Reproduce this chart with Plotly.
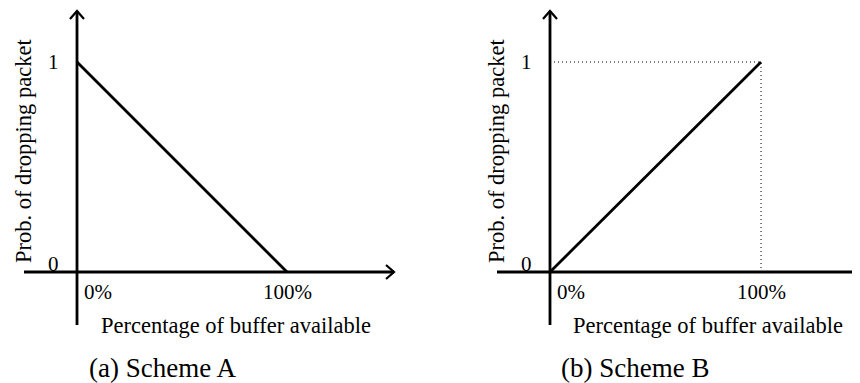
import plotly.graph_objects as go

# ---- data ----
buffer_pct = [0, 100]            # percentage of buffer available
prob_scheme_a = [1, 0]           # Scheme A: prob. of dropping packet
prob_scheme_b = [0, 1]           # Scheme B
y_ticks = [0, 1]
y_tick_labels = ["0", "1"]
x_ticks = [0, 100]
x_tick_labels = ["0%", "100%"]
x_title = "Percentage of buffer available"
y_title = "Prob. of dropping packet"
captions = ["(a) Scheme A", "(b) Scheme B"]

OFF = 8  # page body margin of the html page
W, H = 860 - OFF, 383 - OFF
FONT = "Liberation Serif, Times New Roman, serif"
FS_TICK = 21
FS_TITLE = 22.5
FS_CAP = 27
LW = 2.8

# pixel geometry for each panel (page px)
panels = [
    dict(x0=OFF, x1=430, ox=77, sx=210 / 100),
    dict(x0=430, x1=860, ox=550, sx=211 / 100),
]
oy, sy = 272, 210  # y origin page px, px per unit prob

yr = [-(383 - oy) / sy, (oy - OFF) / sy]

fig = go.Figure()
layout = dict(width=W, height=H, margin=dict(l=0, r=0, t=0, b=0, pad=0),
              paper_bgcolor="white", plot_bgcolor="white", showlegend=False)

annotations = []

for i, p in enumerate(panels):
    xa = "x" if i == 0 else "x2"
    ya = "y" if i == 0 else "y2"
    xr = [-(p["ox"] - p["x0"]) / p["sx"], (p["x1"] - p["ox"]) / p["sx"]]
    key = "" if i == 0 else "2"
    layout["xaxis" + key] = dict(domain=[(p["x0"] - OFF) / W, (p["x1"] - OFF) / W], range=xr,
                                 visible=False, fixedrange=True)
    layout["yaxis" + key] = dict(domain=[0, 1], range=yr, visible=False,
                                 fixedrange=True, anchor=xa)
    dx = lambda px, p=p: px / p["sx"]   # px -> data x
    dy = lambda px: px / sy             # px -> data y

    # axes lines
    x_start, x_end = dx(-53), dx(317 if i == 0 else 312)
    y_start, y_end = dy(-53), dy(261)
    for xs, ys in (([x_start, x_end], [0, 0]), ([0, 0], [y_start, y_end])):
        fig.add_trace(go.Scatter(x=xs, y=ys, mode="lines",
                                 line=dict(color="black", width=LW), xaxis=xa, yaxis=ya,
                                 hoverinfo="skip"))
    # arrowheads (chevrons)
    fig.add_trace(go.Scatter(x=[x_end - dx(8), x_end, x_end - dx(8)],
                             y=[dy(7), 0, -dy(7)], mode="lines",
                             line=dict(color="black", width=LW * 0.8), xaxis=xa, yaxis=ya,
                             hoverinfo="skip"))
    fig.add_trace(go.Scatter(x=[-dx(7), 0, dx(7)],
                             y=[y_end - dy(8), y_end, y_end - dy(8)], mode="lines",
                             line=dict(color="black", width=LW * 0.8), xaxis=xa, yaxis=ya,
                             hoverinfo="skip"))

    series = prob_scheme_a if i == 0 else prob_scheme_b
    if i == 1:
        fig.add_trace(go.Scatter(x=[0, buffer_pct[1], buffer_pct[1]],
                                 y=[series[1], series[1], 0], mode="lines",
                                 line=dict(color="black", width=1, dash="1px,3px"),
                                 xaxis=xa, yaxis=ya, hoverinfo="skip"))
    fig.add_trace(go.Scatter(x=buffer_pct, y=series, mode="lines",
                             line=dict(color="black", width=LW), xaxis=xa, yaxis=ya,
                             hoverinfo="skip"))

    tfont = dict(family=FONT, size=FS_TICK, color="black")
    font = dict(family=FONT, size=FS_TITLE, color="black")
    # y tick labels
    for yv, lab in zip(y_ticks, y_tick_labels):
        annotations.append(dict(x=-dx(16), y=yv + (dy(8) if yv == 0 else 0), xref=xa, yref=ya,
                                text=lab, showarrow=False, xanchor="right", yanchor="middle",
                                font=tfont))
    # x tick labels
    for xv, lab in zip(x_ticks, x_tick_labels):
        annotations.append(dict(x=dx(5) if xv == 0 else xv, y=-dy(20), xref=xa, yref=ya,
                                text=lab, showarrow=False,
                                xanchor="left" if xv == 0 else "center", yanchor="middle",
                                font=tfont))
    # x title
    annotations.append(dict(x=dx(159 if i == 0 else 158), y=-dy(53), xref=xa, yref=ya,
                            text=x_title, showarrow=False, xanchor="center", yanchor="middle",
                            font=font))
    # y title
    annotations.append(dict(x=-dx(54), y=dy(121), xref=xa, yref=ya, text=y_title,
                            showarrow=False, textangle=-90, xanchor="center", yanchor="middle",
                            font=font))
    # caption
    annotations.append(dict(x=dx(85), y=-dy(96), xref=xa, yref=ya, text=captions[i],
                            showarrow=False, xanchor="center", yanchor="middle",
                            font=dict(family=FONT, size=FS_CAP, color="black")))

layout["annotations"] = annotations
fig.update_layout(**layout)
fig.write_html("out.html")
